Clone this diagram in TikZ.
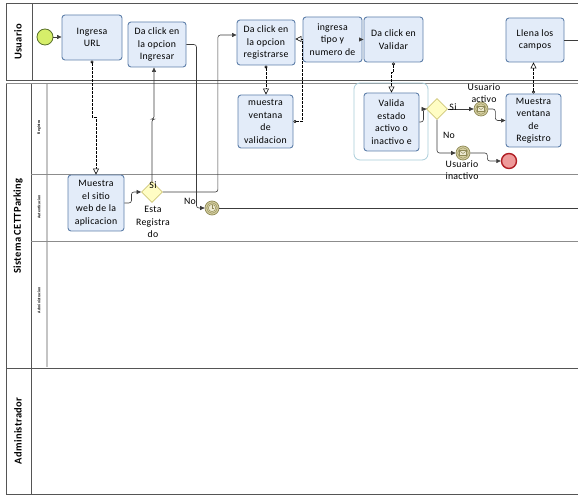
\documentclass[tikz,border=0pt]{standalone}
\usepackage{fontspec}
\setmainfont{Carlito}[LetterSpace=3]
\usetikzlibrary{arrows.meta,calc,shapes.geometric}

\definecolor{taskfill}{HTML}{E3ECF9}
\definecolor{taskline}{HTML}{5F80AA}
\definecolor{gwfill}{HTML}{FFFDC4}
\definecolor{gwline}{HTML}{CFC777}
\definecolor{startfill}{HTML}{D6EE6A}
\definecolor{startline}{HTML}{58702A}
\definecolor{endfill}{HTML}{EE9A9A}
\definecolor{endline}{HTML}{B01E24}
\definecolor{evfill}{HTML}{D5CFA0}
\definecolor{evline}{HTML}{8F8A57}
\definecolor{evinner}{HTML}{EDEAD2}
\definecolor{poolline}{HTML}{555555}
\definecolor{laneline}{HTML}{8C8C8C}
\definecolor{lanecol}{HTML}{C4C4C4}
\definecolor{groupline}{HTML}{A9CDDA}
\definecolor{flowline}{HTML}{3C3C3C}

\tikzset{
  txt/.style={font=\fontsize{9.8}{12.5}\selectfont, inner sep=0pt, align=center},
  task/.style={txt, draw=taskline, fill=taskfill, line width=0.9pt, rounded corners=3pt},
  gateway/.style={diamond, aspect=1, draw=gwline, fill=gwfill, line width=0.8pt,
    minimum width=21pt, minimum height=21pt, inner sep=0pt},
  startev/.style={circle, draw=startline, fill=startfill, line width=0.8pt, minimum size=16pt, inner sep=0pt},
  endev/.style={circle, draw=endline, fill=endfill, line width=1.4pt, minimum size=15pt, inner sep=0pt},
  midev/.style={circle, draw=evline, fill=evfill, line width=0.7pt, minimum size=14pt, inner sep=0pt},
  seq/.style={draw=flowline, line width=0.6pt, rounded corners=2.5pt,
    -{Triangle[length=4.5pt,width=4pt]}},
  plainflow/.style={draw=flowline, line width=0.6pt, rounded corners=2.5pt},
  msgflow/.style={draw=black, line width=0.6pt, dashed, dash pattern=on 2.5pt off 1.5pt,
    {Circle[open,length=3pt,fill=white]}-{Triangle[open,length=6pt,width=6pt,fill=white]}},
  poolrule/.style={draw=poolline, line width=1pt},
  lanerule/.style={draw=laneline, line width=0.9pt},
  poolname/.style={font=\fontsize{10.5}{11}\selectfont\bfseries, rotate=90, inner sep=0pt},
  lanename/.style={font=\fontsize{3.9}{4}\selectfont\bfseries, rotate=90, inner sep=0pt},
  flowlabel/.style={txt},
  envelope/.pic={
    \draw[evline, fill=evinner, line width=0.4pt] (-3.4,-2.4) rectangle (3.4,2.4);
    \draw[evline, line width=0.4pt] (-3.4,-2.4) -- (0,0.6) -- (3.4,-2.4);
  },
  clockface/.pic={
    \draw[evline, fill=evinner, line width=0.4pt] (0,0) circle[radius=3.6];
    \draw[evline, line width=0.5pt] (0,-2.6) -- (0,0) -- (2.2,0);
  }
}

\begin{document}
\begin{tikzpicture}[x=1pt,y=-1pt]
\useasboundingbox (0,0) rectangle (578,502);
\fill[white] (0,0) rectangle (578,502);

% ---------- pools ----------
% Usuario
\draw[poolrule] (578,4) -- (6,4) -- (6,81) -- (578,81);
\draw[poolrule] (32,4) -- (32,81);
% Sistema CETTParking
\draw[draw=laneline, line width=1pt] (6,84) -- (578,84);
\draw[poolrule] (6,84) -- (6,368);
\draw[poolrule] (31,84) -- (31,368);
\draw[poolrule] (6,368) -- (578,368);
% sub-lanes of the system pool
\draw[draw=lanecol, line width=1.5pt] (47,84) -- (47,367);
\draw[lanerule] (31,174) -- (578,174);
\draw[lanerule] (31,241) -- (578,241);
% Administrador
\draw[poolrule] (6,368) -- (6,494) -- (578,494);
\draw[poolrule] (31,368) -- (31,494);

\node[poolname] (pUsuario) at (18,42) {Usuario};
\node[poolname] (pSistema) at (18,226) {Sistema CETTParking};
\node[poolname] (pAdmin) at (18,431) {Administrador};

\node[lanename] (lRegistro) at (39,127) {Registro};
\node[lanename] (lAuth) at (39,207) {Autenticacion};
\node[lanename] (lAdmin) at (39,300) {Administracion};

% ---------- group around the validation task ----------
\draw[draw=groupline, line width=0.8pt, rounded corners=6pt] (354,83) rectangle (428,160);

% ---------- tasks ----------
\node[task, minimum width=60pt, minimum height=45pt] (url) at (92,37.5) {Ingresa\\URL};
\node[task, minimum width=58pt, minimum height=45pt] (ingresar) at (157,44.5) {Da click en\\la opcion\\Ingresar};
\node[task, minimum width=58pt, minimum height=45pt] (registrarse) at (266,42.5) {Da click en\\la opcion\\registrarse};
\node[task, minimum width=55pt, minimum height=53pt] (validacion) at (265.5,121.5) {muestra\\ventana\\de\\validacion};
\node[task, minimum width=59pt, minimum height=45pt] (tipo) at (332.5,39.5) {ingresa\\tipo y\\numero de};
\node[task, minimum width=59pt, minimum height=45pt] (validar) at (393.5,39.5) {Da click en\\Validar};
\node[task, minimum width=58pt, minimum height=44pt] (llena) at (535,40) {Llena los\\campos};
\node[task, minimum width=55pt, minimum height=58pt] (valida) at (391.5,122) {Valida\\estado\\activo o\\inactivo e};
\node[task, minimum width=55pt, minimum height=53pt] (registro) at (533.5,120.5) {Muestra\\ventana\\de\\Registro};
\node[task, minimum width=56pt, minimum height=56pt] (sitio) at (96,203) {Muestra\\el sitio\\web de la\\aplicacion};

% ---------- gateways ----------
\node[gateway] (g1) at (152,192) {};
\node[gateway] (g2) at (437,109) {};

% ---------- events ----------
\node[startev] (start) at (45,37) {};
\node[endev] (finish) at (509,161) {};
\node[midev] (activo) at (481,109) {};
\node[midev] (inactivo) at (463,153) {};
\node[midev] (timer) at (212,208) {};
\draw[evline, line width=0.4pt] (activo.center) circle[radius=5.3];
\draw[evline, line width=0.4pt] (inactivo.center) circle[radius=5.3];
\draw[evline, line width=0.4pt] (timer.center) circle[radius=5.3];
\pic at (activo.center) {envelope};
\pic at (inactivo.center) {envelope};
\pic at (timer.center) {clockface};

% ---------- free ends of flows leaving the picture ----------
\coordinate (llenaOut) at (578,40);
\coordinate (timerOut) at (578,208);

% ---------- sequence flows ----------
\draw[seq] (start.east) -- (start.east -| url.west);
\draw[seq] (sitio.east) -- ++(7,0) |- (g1.west);
\draw[seq] (g1.north) -- ++(0,-62) -| ([xshift=-3pt]ingresar.south);
\draw[seq] (ingresar.east) -- ++(10,0) |- (timer.west);
\draw[seq] (g1.east) -- ++(55,0) |- ([yshift=7.5pt]registrarse.west);
\draw[seq] ([xshift=-3pt]tipo.east) -- (validar.west);
\draw[seq] (valida.east) -- ++(4,0) |- (g2.west);
\draw[seq] (g2.east) -- (activo.west);
\draw[seq] (activo.east) -- ++(7,0) |- (registro.west);
\draw[seq] (g2.south) |- (inactivo.west);
\draw[seq] (inactivo.east) -- ++(17,0) |- (finish.west);
\draw[plainflow] (llena.east) -- (llenaOut);
\draw[plainflow] (timer.east) -- (timerOut);

% ---------- message flows ----------
\draw[msgflow] (url.south) -- ++(0,57) -| (sitio.north);
\draw[msgflow] (registrarse.south) -- (registrarse.south |- validacion.north);
\draw[msgflow] (validacion.east) -- ++(9,0) |- ([yshift=3.5pt]registrarse.east);
\draw[msgflow] (validar.south) -- ++(0,10) -| (valida.north);
\draw[msgflow] (registro.north) -- (registro.north |- llena.south);

% ---------- flow labels ----------
\node[flowlabel] (siA) at (153,185) {Si};
\node[flowlabel] (noA) at (190,201) {No};
\node[flowlabel] (qReg) at (153,222) {Esta\\Registra\\do};
\node[flowlabel] (siB) at (453,107) {Si};
\node[flowlabel] (noB) at (449,135) {No};
\node[flowlabel] (lblActivo) at (484,93) {Usuario\\activo};
\node[flowlabel] (lblInactivo) at (462,170) {Usuario\\inactivo};
\end{tikzpicture}
\end{document}
